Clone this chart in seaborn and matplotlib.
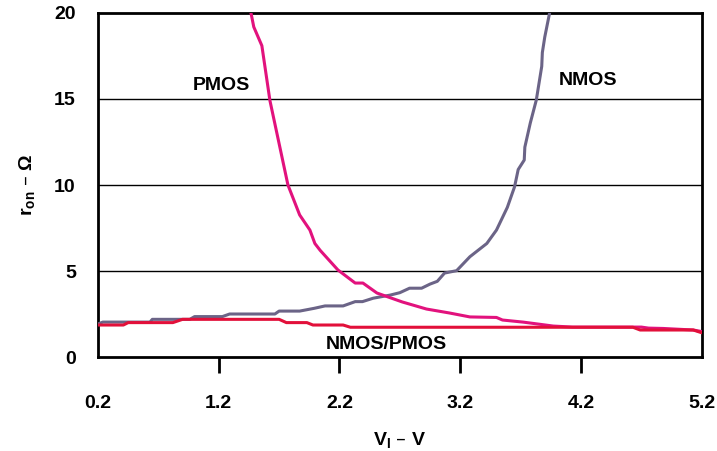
import matplotlib
matplotlib.use("Agg")
import matplotlib.pyplot as plt
import seaborn as sns
import pandas as pd

# NMOS on-resistance vs input voltage
nmos_x = [0.20, 0.24, 0.63, 0.65, 0.96, 1.00, 1.23, 1.29, 1.665, 1.70, 1.87, 1.99, 2.08, 2.23, 2.33,
          2.39, 2.48, 2.62, 2.70, 2.78, 2.88, 2.95, 3.01, 3.07, 3.17, 3.28, 3.42, 3.50, 3.59, 3.65,
          3.68, 3.73, 3.735, 3.78, 3.83, 3.875, 3.88, 3.90, 3.94]
nmos_y = [1.92, 2.03, 2.03, 2.19, 2.19, 2.35, 2.35, 2.50, 2.50, 2.67, 2.67, 2.83, 2.97, 2.97, 3.22,
          3.22, 3.42, 3.60, 3.74, 4.00, 4.00, 4.24, 4.40, 4.88, 5.02, 5.83, 6.60, 7.38, 8.70, 9.90,
          10.90, 11.45, 12.20, 13.60, 14.94, 16.90, 17.70, 18.60, 20.00]

# PMOS on-resistance vs input voltage
pmos_x = [1.467, 1.49, 1.557, 1.624, 1.773, 1.87, 1.955, 1.996, 2.04, 2.187, 2.33, 2.394, 2.51,
          2.72, 2.92, 3.11, 3.28, 3.50, 3.55, 3.72, 3.97, 4.13, 4.70, 4.76, 4.88, 5.13, 5.20]
pmos_y = [20.0, 19.19, 18.1, 14.9, 10.0, 8.26, 7.38, 6.6, 6.2, 5.06, 4.3, 4.3, 3.72,
          3.2, 2.79, 2.56, 2.33, 2.30, 2.15, 2.03, 1.80, 1.74, 1.74, 1.68, 1.66, 1.57, 1.48]

# Combined NMOS/PMOS (parallel) on-resistance
both_x = [0.20, 0.41, 0.45, 0.82, 0.90, 1.70, 1.76, 1.93, 1.98, 2.23, 2.29, 4.63, 4.69, 5.13, 5.20]
both_y = [1.86, 1.86, 2.00, 2.00, 2.19, 2.19, 2.00, 2.00, 1.86, 1.86, 1.73, 1.73, 1.57, 1.57, 1.41]

x_ticks = [0.2, 1.2, 2.2, 3.2, 4.2, 5.2]
y_ticks = [0, 5, 10, 15, 20]

sns.set_theme(style="white")
plt.rcParams['font.family'] = ['Liberation Sans', 'DejaVu Sans']
plt.rcParams['mathtext.default'] = 'regular'

FS = 14

fig = plt.figure(figsize=(7.17, 4.51), dpi=100)
ax = fig.add_axes([0.1367, 0.2084, 0.842, 0.7628])

df_n = pd.DataFrame({"x": nmos_x, "y": nmos_y})
df_p = pd.DataFrame({"x": pmos_x, "y": pmos_y})
df_b = pd.DataFrame({"x": both_x, "y": both_y})

for y in [5, 10, 15]:
    ax.axhline(y, color="black", lw=1.0, zorder=1)

sns.lineplot(data=df_n, x="x", y="y", ax=ax, color="#6B6487", lw=2.2, sort=False, estimator=None, zorder=3)
sns.lineplot(data=df_p, x="x", y="y", ax=ax, color="#E2127D", lw=2.2, sort=False, estimator=None, zorder=3)
sns.lineplot(data=df_b, x="x", y="y", ax=ax, color="#E2103A", lw=2.2, sort=False, estimator=None, zorder=4)

ax.set_xlim(0.2, 5.2)
ax.set_ylim(0, 20)
ax.set_xticks(x_ticks)
ax.set_xticklabels([f"{v:.1f}" for v in x_ticks])
ax.set_yticks(y_ticks)
ax.set_yticklabels([str(v) for v in y_ticks])

for s in ax.spines.values():
    s.set_visible(True)
    s.set_color("black")
    s.set_linewidth(2.0)

ax.tick_params(axis="x", direction="out", length=11.5, width=2, color="black", pad=15.5,
               labelsize=FS, bottom=True)
ax.tick_params(axis="y", length=0, pad=16, labelsize=FS)
# no tick marks at the two ends (they coincide with the frame)
xt = ax.xaxis.get_major_ticks()
xt[0].tick1line.set_visible(False)
xt[-1].tick1line.set_visible(False)
for lab in ax.get_xticklabels() + ax.get_yticklabels():
    lab.set_fontweight("bold")
    lab.set_color("black")

ax.set_xlabel("V$_I$ – V", fontsize=FS, fontweight="bold", color="black", labelpad=13)
ax.set_ylabel("r$_{on}$ – Ω", fontsize=FS, fontweight="bold", color="black", labelpad=12)

ax.text(1.218, 15.8, "PMOS", ha="center", va="center", fontsize=FS, fontweight="bold", color="black")
ax.text(4.256, 16.05, "NMOS", ha="center", va="center", fontsize=FS, fontweight="bold", color="black")
ax.text(2.59, 0.72, "NMOS/PMOS", ha="center", va="center", fontsize=FS, fontweight="bold", color="black")

fig.savefig("out.png", dpi=100)
